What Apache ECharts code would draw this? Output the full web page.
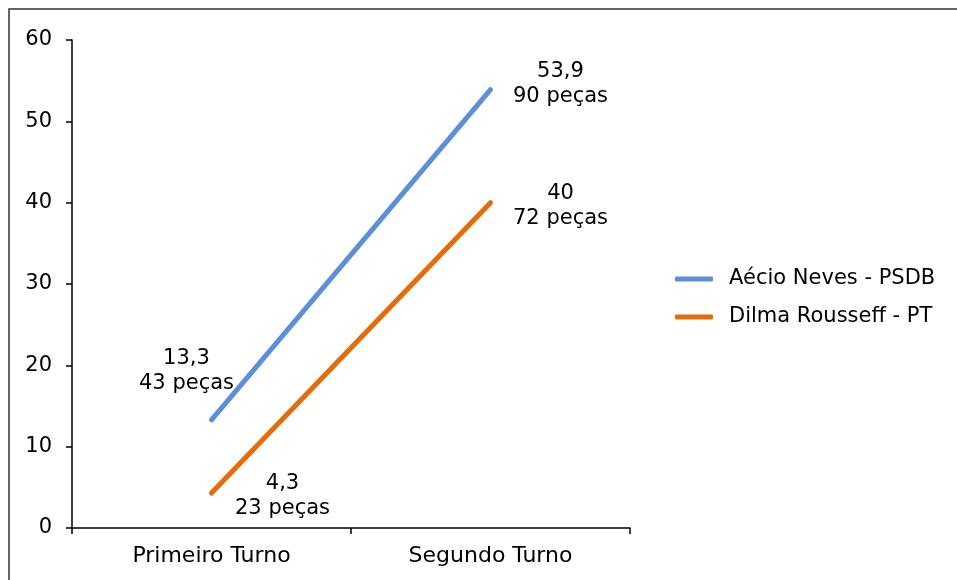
<!DOCTYPE html>
<html><head><meta charset="utf-8">
<script src="https://cdn.jsdelivr.net/npm/echarts@6/dist/echarts.min.js"></script>
<style>html,body{margin:0;padding:0;background:#fff}#c{width:957px;height:580px}</style>
</head><body><div id="c"></div>
<script>
var categories = ['Primeiro Turno', 'Segundo Turno'];
var aecioValues = [13.3, 53.9];
var dilmaValues = [4.3, 40];
var aecioPieces = [43, 90];
var dilmaPieces = [23, 72];
var seriesNames = ['Aécio Neves - PSDB', 'Dilma Rousseff - PT'];
var yTicks = [0, 10, 20, 30, 40, 50, 60];

var FONT = 'DejaVu Sans';
function fmt(v){ return String(v).replace('.', ','); }
function mkData(vals, pieces){
  return vals.map(function(v,i){
    return {value: v, label: {formatter: fmt(v) + '\n' + pieces[i] + ' peças'}};
  });
}
var aecioOffsets = [[-25,-49],[70,-6]];
var dilmaOffsets = [[71,3],[70,3]];
function layoutFn(offs){
  return function(p){ var o = offs[p.dataIndex]; return {dx: o[0], dy: o[1], hideOverlap: false}; };
}
var labelStyle = {show: true, position: 'inside', align: 'center', verticalAlign: 'middle', color: '#000', fontSize: 21, fontFamily: FONT, lineHeight: 25};
var chart = echarts.init(document.getElementById('c'));
chart.setOption({
  animation: false,
  backgroundColor: '#fff',
  textStyle: {fontFamily: FONT},
  graphic: [{type:'rect', shape:{x:9, y:9, width:1000, height:1000}, style:{fill:'none', stroke:'#333', lineWidth:1.5}, silent:true}],
  grid: {left: 72, right: 327, top: 40, bottom: 52},
  legend: {
    orient: 'vertical', left: 670, top: 263,
    itemWidth: 38, itemHeight: 5, itemGap: 16,
    icon: 'roundRect',
    data: seriesNames,
    textStyle: {fontFamily: FONT, fontSize: 21, color: '#000', padding: [0,0,0,11], lineHeight: 22}
  },
  xAxis: {
    type: 'category', data: categories, boundaryGap: true,
    axisLine: {lineStyle: {color: '#000', width: 1.5}},
    axisTick: {show: true, length: 6, alignWithLabel: false, lineStyle: {color: '#000', width: 1.5}},
    axisLabel: {color: '#000', fontSize: 22, fontFamily: FONT, margin: 17}
  },
  yAxis: {
    type: 'value', min: yTicks[0], max: yTicks[yTicks.length-1], interval: 10,
    splitLine: {show: false},
    axisLine: {show: true, lineStyle: {color: '#000', width: 1.5}},
    axisTick: {show: true, length: 6, lineStyle: {color: '#000', width: 1.5}},
    axisLabel: {color: '#000', fontSize: 21, fontFamily: FONT, margin: 20}
  },
  series: [
    {name: seriesNames[0], type: 'line', data: mkData(aecioValues, aecioPieces),
     symbol: 'circle', symbolSize: 1, showSymbol: true, color: '#5B8FD8',
     itemStyle: {color: '#5B8FD8'},
     lineStyle: {width: 5, cap: 'round', color: '#5B8FD8'},
     label: labelStyle, labelLayout: layoutFn(aecioOffsets)},
    {name: seriesNames[1], type: 'line', data: mkData(dilmaValues, dilmaPieces),
     symbol: 'circle', symbolSize: 1, showSymbol: true, color: '#E46C0A',
     itemStyle: {color: '#E46C0A'},
     lineStyle: {width: 5, cap: 'round', color: '#E46C0A'},
     label: labelStyle, labelLayout: layoutFn(dilmaOffsets)}
  ]
});
</script></body></html>
